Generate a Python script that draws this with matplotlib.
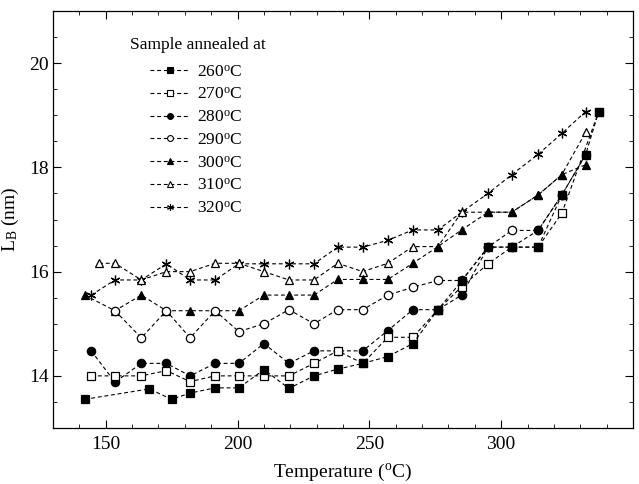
import matplotlib
matplotlib.use("Agg")
import matplotlib.pyplot as plt
from matplotlib.ticker import MultipleLocator
from matplotlib.lines import Line2D

plt.rcParams['font.family'] = ['Liberation Serif', 'DejaVu Serif']
plt.rcParams['mathtext.fontset'] = 'custom'
plt.rcParams['mathtext.rm'] = 'Liberation Serif'
plt.rcParams['mathtext.it'] = 'Liberation Serif:italic'

# ---- data ----
x_260 = [142, 166.5, 175, 182, 191.5, 200.5, 210, 219.5, 229, 238, 247.5, 257, 266.5, 276, 285, 295, 304, 314, 323, 332, 337]
y_260 = [13.55, 13.75, 13.55, 13.67, 13.77, 13.77, 14.12, 13.76, 14.0, 14.13, 14.24, 14.37, 14.62, 15.27, 15.82, 16.47, 16.47, 16.47, 17.47, 18.24, 19.07]

x_270 = [144.5, 153.5, 163.5, 173, 182, 191.5, 200.5, 210, 219.5, 229, 238, 247.5, 257, 266.5, 276, 285, 295, 304, 314, 323, 337]
y_270 = [14.0, 14.0, 14.0, 14.1, 13.89, 14.0, 14.0, 14.0, 14.0, 14.24, 14.48, 14.24, 14.74, 14.74, 15.27, 15.71, 16.15, 16.47, 16.47, 17.12, 19.07]

x_280 = [144.5, 153.5, 163.5, 173, 182, 191.5, 200.5, 210, 219.5, 229, 238, 247.5, 257, 266.5, 276, 285, 295, 304, 314, 323, 332]
y_280 = [14.48, 13.88, 14.24, 14.24, 14.0, 14.24, 14.24, 14.62, 14.24, 14.48, 14.48, 14.48, 14.87, 15.27, 15.27, 15.55, 16.47, 16.47, 16.79, 17.47, 18.24]

x_290 = [153.5, 163.5, 173, 182, 191.5, 200.5, 210, 219.5, 229, 238, 247.5, 257, 266.5, 276, 285, 295, 304, 314, 323]
y_290 = [15.25, 14.73, 15.25, 14.73, 15.25, 14.85, 15.0, 15.27, 15.0, 15.27, 15.27, 15.55, 15.70, 15.83, 15.83, 16.47, 16.79, 16.79, 17.47]

x_300 = [142, 153.5, 163.5, 173, 182, 191.5, 200.5, 210, 219.5, 229, 238, 247.5, 257, 266.5, 276, 285, 295, 304, 314, 323, 332]
y_300 = [15.55, 15.25, 15.55, 15.25, 15.25, 15.25, 15.25, 15.55, 15.55, 15.55, 15.85, 15.85, 15.85, 16.16, 16.48, 16.8, 17.14, 17.14, 17.47, 17.86, 18.05]

x_310 = [147.5, 153.5, 163.5, 173, 182, 191.5, 200.5, 210, 219.5, 229, 238, 247.5, 257, 266.5, 276, 285, 295, 304, 314, 323, 332]
y_310 = [16.16, 16.16, 15.84, 16.0, 16.0, 16.16, 16.16, 16.0, 15.84, 15.84, 16.16, 16.0, 16.16, 16.48, 16.48, 17.14, 17.14, 17.14, 17.47, 17.86, 18.67]

x_320 = [144.5, 153.5, 163.5, 173, 182, 191.5, 200.5, 210, 219.5, 229, 238, 247.5, 257, 266.5, 276, 285, 295, 304, 314, 323, 332]
y_320 = [15.55, 15.84, 15.84, 16.15, 15.84, 15.84, 16.15, 16.15, 16.15, 16.15, 16.47, 16.47, 16.6, 16.8, 16.8, 17.14, 17.5, 17.86, 18.25, 18.65, 19.07]

labels = ['260', '270', '280', '290', '300', '310', '320']
x_ticks = [150, 200, 250, 300]
y_ticks = [14, 16, 18, 20]

xs = [x_260, x_270, x_280, x_290, x_300, x_310, x_320]
ys = [y_260, y_270, y_280, y_290, y_300, y_310, y_320]
markers = ['s', 's', 'o', 'o', '^', '^', (6, 2, 0)]
filled = [True, False, True, False, True, False, True]
msizes = [6, 6, 6, 6, 6, 6, 7]

fig = plt.figure(figsize=(6.39, 4.84), dpi=100)
ax = fig.add_axes([53/639, 56/484, 580/639, 417/484])

dash = (0, (3.5, 2.5))
for i in list(range(len(labels)))[::-1]:
    mfc = 'black' if filled[i] else 'white'
    ax.plot(xs[i], ys[i], color='black', lw=0.8, linestyle=dash,
            marker=markers[i], markersize=msizes[i], markerfacecolor=mfc,
            markeredgecolor='black', markeredgewidth=0.9, zorder=2 + (6 - i))

handles = []
for i in range(len(labels)):
    mfc = 'black' if filled[i] else 'white'
    handles.append(Line2D([], [], color='black', lw=0.8, linestyle=dash,
                          marker=markers[i], markersize=msizes[i] * 0.7,
                          markerfacecolor=mfc, markeredgecolor='black',
                          markeredgewidth=0.8,
                          label=labels[i] + r'$^{\rm o}$C'))

ax.set_xlim(130, 350)
ax.set_ylim(13, 21)
ax.set_xticks(x_ticks)
ax.xaxis.set_minor_locator(MultipleLocator(10))
ax.set_yticks(y_ticks)
ax.yaxis.set_minor_locator(MultipleLocator(0.5))
ax.tick_params(which='both', direction='in', top=True, right=True, labelsize=14)
ax.tick_params(which='major', length=6, width=0.8)
ax.tick_params(which='minor', length=3, width=0.6)
ax.tick_params(axis='x', pad=6)
ax.tick_params(axis='y', pad=3)
for s in ax.spines.values():
    s.set_linewidth(0.9)

ax.set_xlabel(r'Temperature ($^{\rm o}$C)', fontsize=14, labelpad=6)
ax.set_ylabel(r'L$_{\rm B}$ (nm)', fontsize=14, labelpad=6)

ax.text(0.133, 0.918, 'Sample annealed at', transform=ax.transAxes,
        fontsize=12.5, ha='left', va='center')
ax.legend(handles=handles, loc='upper left', bbox_to_anchor=(0.168, 0.873),
          frameon=False, fontsize=12.5, handlelength=2.2, handletextpad=0.5,
          labelspacing=0.38, borderpad=0, borderaxespad=0)

fig.savefig('out.png', dpi=100)
